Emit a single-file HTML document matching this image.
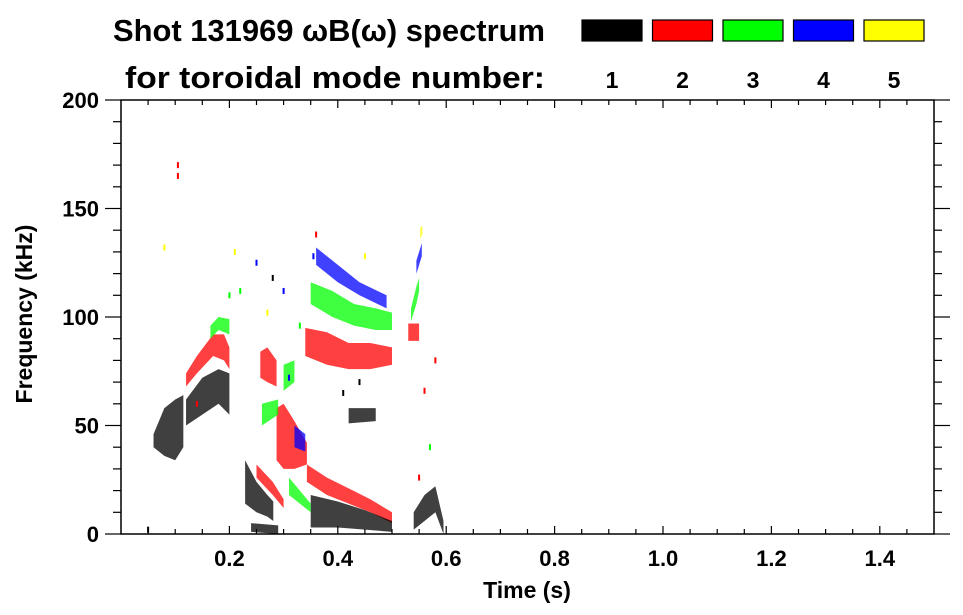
<!DOCTYPE html>
<html><head><meta charset="utf-8"><style>
html,body{margin:0;padding:0;background:#fff;}
svg{display:block;font-family:"Liberation Sans",sans-serif;font-weight:bold;}
</style></head><body>
<svg id="chart" width="963" height="615" viewBox="0 0 963 615" xmlns="http://www.w3.org/2000/svg">
<text x="113" y="41" font-size="31" textLength="432" lengthAdjust="spacingAndGlyphs">Shot 131969 ωB(ω) spectrum</text>
<text x="125" y="88" font-size="31" textLength="420" lengthAdjust="spacingAndGlyphs">for toroidal mode number:</text>
<g id="legend"></g>
<g id="marks"></g>
<g id="axes"></g>
<text x="527" y="598" font-size="23" text-anchor="middle">Time (s)</text>
<text transform="translate(32,314) rotate(-90)" font-size="23" text-anchor="middle">Frequency (kHz)</text>
</svg>
<script>
const modeLabels = ['1','2','3','4','5'];
const modeColors = ['#000000','#ff0000','#00ff00','#0000ff','#ffff00'];
const xTicks = [0.2,0.4,0.6,0.8,1.0,1.2,1.4];
const yTicks = [0,50,100,150,200];
// features: mode index, points [time, fLow, fHigh]
const featModes = [0,0,1,2,1,1,1,0,0,1,2,3,0,1,2,3,4,0,2,2,1,0,2,3];
const featPoints = [
 [[0.06,40,46],[0.08,36,58],[0.10,34,62],[0.115,40,64]],
 [[0.12,50,62],[0.15,55,72],[0.18,60,76],[0.2,55,74]],
 [[0.12,68,74],[0.14,74,82],[0.17,82,92],[0.19,80,92],[0.20,76,86]],
 [[0.165,90,96],[0.18,94,100],[0.2,92,99]],
 [[0.257,72,84],[0.27,70,86],[0.287,68,80]],
 [[0.287,34,58],[0.30,30,60],[0.32,30,52],[0.343,32,42]],
 [[0.343,24,32],[0.38,18,26],[0.42,14,21],[0.46,10,16],[0.5,5,10]],
 [[0.35,3,18],[0.40,3,15],[0.45,2,11],[0.5,1,6]],
 [[0.229,14,34],[0.25,10,24],[0.27,8,18],[0.281,6,15]],
 [[0.34,82,95],[0.38,78,93],[0.42,76,88],[0.46,76,88],[0.50,78,86]],
 [[0.35,106,116],[0.39,100,112],[0.43,96,106],[0.47,94,104],[0.50,94,102]],
 [[0.36,124,132],[0.40,116,124],[0.44,110,116],[0.49,104,110]],
 [[0.42,51,58],[0.47,52,58]],
 [[0.53,89,97],[0.55,89,97]],
 [[0.535,98,104],[0.545,106,114],[0.55,112,118]],
 [[0.545,120,126],[0.555,128,134]],
 [[0.552,136,141],[0.556,138,142]],
 [[0.54,2,10],[0.56,6,18],[0.58,10,22],[0.595,0,6]],
 [[0.26,50,60],[0.29,55,62]],
 [[0.31,18,26],[0.33,14,20],[0.35,10,14]],
 [[0.25,26,32],[0.28,18,24],[0.3,12,16]],
 [[0.24,1,5],[0.29,0,4]],
 [[0.3,66,78],[0.32,70,80]],
 [[0.32,40,50],[0.34,38,46]]
];
const specT = [0.105,0.105,0.36,0.355,0.3,0.31,0.25,0.22,0.56,0.58,0.57,0.27,0.33,0.28,0.45,0.44,0.41,0.2,0.21,0.08,0.05,0.14,0.55];
const specF = [170,165,138,128,112,72,125,112,66,80,40,102,96,118,128,70,65,110,130,132,2,60,26];
const specM = [1,1,1,3,3,3,3,2,1,1,2,4,2,0,4,0,0,2,4,4,0,1,1];

const NS='http://www.w3.org/2000/svg';
const L=121,R=934,T=100,B=534;
const xs=t=>L+t*(R-L)/1.5;
const ys=f=>B-f*(B-T)/200;
function mk(tag,attrs,parent){const e=document.createElementNS(NS,tag);for(const k in attrs)e.setAttribute(k,attrs[k]);parent.appendChild(e);return e;}

const leg=document.getElementById('legend');
modeLabels.forEach((lab,i)=>{
  const cx=612+i*70.5;
  const r=mk('rect',{x:cx-30,y:20,width:60,height:21,fill:modeColors[i],stroke:'#000','stroke-width':1.2},leg);
  
  
  const t=mk('text',{x:cx,y:88,'font-size':23,'text-anchor':'middle'},leg);
  t.textContent=lab;
  
  
});

const marks=document.getElementById('marks');
featPoints.forEach((pts,i)=>{
  const top=pts.map(p=>xs(p[0])+','+ys(p[2]));
  const bot=pts.slice().reverse().map(p=>xs(p[0])+','+ys(p[1]));
  const p=mk('polygon',{points:top.concat(bot).join(' '),fill:modeColors[featModes[i]],'fill-opacity':0.75},marks);
  
  
});
specT.forEach((t,i)=>{
  const r=mk('rect',{x:xs(t)-1,y:ys(specF[i])-3,width:2,height:6,fill:modeColors[specM[i]]},marks);
  
  
});

const ax=document.getElementById('axes');
const frame=mk('rect',{x:L,y:T,width:R-L,height:B-T,fill:'none',stroke:'#000','stroke-width':1.5},ax);


for(let k=0;k<=20;k++){
  const f=k*10,y=ys(f),maj=(f%50===0);
  mk('line',{x1:L-(maj?16:8),x2:L,y1:y,y2:y,stroke:'#000','stroke-width':1.2},ax);
  mk('line',{x1:R,x2:R+(maj?16:8),y1:y,y2:y,stroke:'#000','stroke-width':1.2},ax);
}
for(let k=1;k<30;k++){
  const t=k*0.05,x=xs(t),maj=(k%4===0);
  mk('line',{x1:x,x2:x,y1:T,y2:T+(maj?8:5),stroke:'#000','stroke-width':1.2},ax);
  mk('line',{x1:x,x2:x,y1:B,y2:B-(maj?8:5),stroke:'#000','stroke-width':1.2},ax);
}
yTicks.forEach(v=>{
  const t=mk('text',{x:99,y:ys(v)+8,'font-size':22,'text-anchor':'end'},ax);
  t.textContent=String(v);
  
  
});
xTicks.forEach(v=>{
  const t=mk('text',{x:xs(v),y:566,'font-size':22,'text-anchor':'middle'},ax);
  t.textContent=v.toFixed(1);
  
  
});
</script>
</body></html>
